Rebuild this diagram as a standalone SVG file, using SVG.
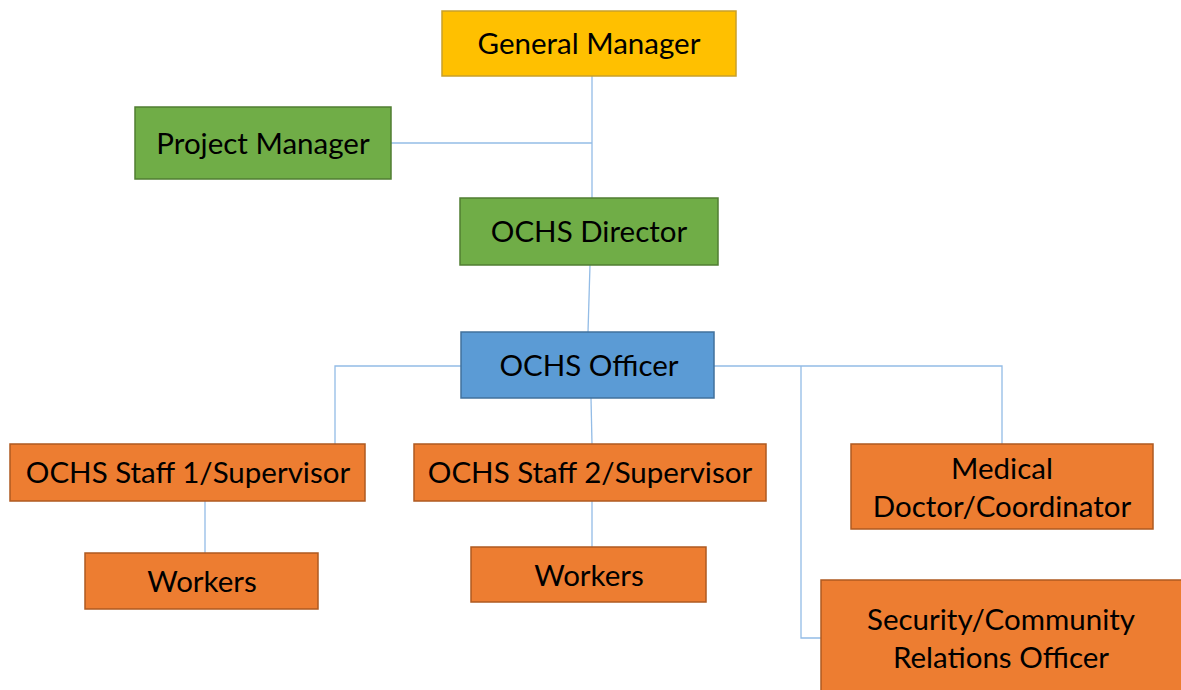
<svg xmlns="http://www.w3.org/2000/svg" width="1181" height="690" viewBox="0 0 1181 690">
<style>
.box{stroke-width:1.5}
.gm{fill:#FFC000;stroke:#C9A02A}
.gr{fill:#70AD47;stroke:#507E32}
.bl{fill:#5B9BD5;stroke:#41719C}
.or{fill:#ED7D31;stroke:#AE5A21}
text{font-family:Lato,"Liberation Sans",sans-serif;font-size:29.5px;fill:#000;text-anchor:middle;dominant-baseline:central}
.c{fill:none;stroke:#93BCE6;stroke-width:1.3}
</style>
<rect width="1181" height="690" fill="#fff"/>
<g id="connectors">
<path class="c" d="M592,76 V198"/>
<path class="c" d="M391,143 H592"/>
<path class="c" d="M590,265 L588,332"/>
<path class="c" d="M461,366 H335 V446 H205"/>
<path class="c" d="M205,501 V553"/>
<path class="c" d="M591,398 L592,444"/>
<path class="c" d="M592,501 V547"/>
<path class="c" d="M714,366 H1002 V444"/>
<path class="c" d="M801,366 V638 H821"/>
</g>
<g id="gm"><rect class="box gm" x="442" y="11" width="294" height="65"/><text x="589" y="42.5">General Manager</text></g>
<g id="pm"><rect class="box gr" x="135" y="107" width="256" height="72"/><text x="263" y="142.5">Project Manager</text></g>
<g id="director"><rect class="box gr" x="460" y="198" width="258" height="67"/><text x="589" y="230.5">OCHS Director</text></g>
<g id="officer"><rect class="box bl" x="461" y="332" width="253" height="66"/><text x="589" y="364.5">OCHS Officer</text></g>
<g id="staff1"><rect class="box or" x="10" y="444" width="355" height="57"/><text x="188" y="471.5">OCHS Staff 1/Supervisor</text></g>
<g id="staff2"><rect class="box or" x="414" y="444" width="352" height="57"/><text x="590" y="471.5">OCHS Staff 2/Supervisor</text></g>
<g id="medical"><rect class="box or" x="851" y="444" width="302" height="85"/><text x="1002" y="467.5">Medical</text><text x="1002" y="505.5">Doctor/Coordinator</text></g>
<g id="workers1"><rect class="box or" x="85" y="553" width="233" height="56"/><text x="202" y="580.5">Workers</text></g>
<g id="workers2"><rect class="box or" x="471" y="547" width="235" height="55"/><text x="589" y="574.5">Workers</text></g>
<g id="security"><rect class="box or" x="821" y="580" width="365" height="115"/><text x="1001" y="618.5">Security/Community</text><text x="1001" y="656.5">Relations Officer</text></g>
</svg>
